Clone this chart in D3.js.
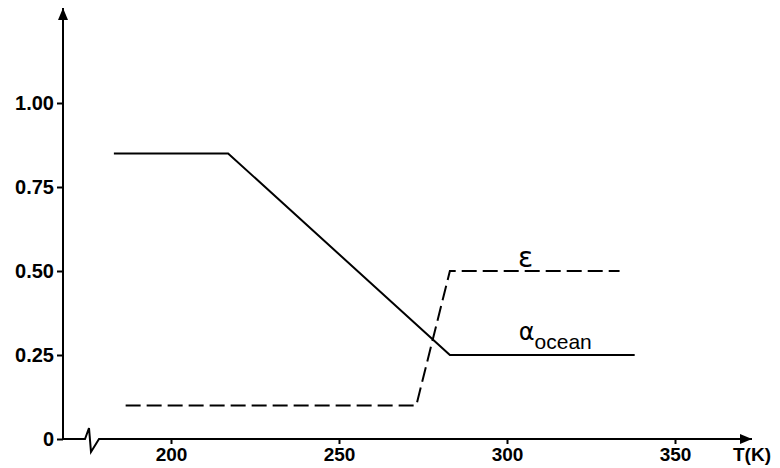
<!DOCTYPE html>
<html>
<head>
<meta charset="utf-8">
<script src="https://cdn.jsdelivr.net/npm/d3@7"></script>
<style>
  body{margin:0;background:#fff;}
  svg{display:block;}
</style>
</head>
<body>
<div class="chart"></div>
<script>
const width=780,
      height=468,
      font='Liberation Sans';

// albedo of the ocean vs temperature
const alphaT=[183,217,283,338];
const alphaV=[0.85,0.85,0.25,0.25];
// emissivity vs temperature
const epsT=[186.5,273,283,333.5];
const epsV=[0.10,0.10,0.50,0.50];

const xTicks=[200,250,300,350];
const yTicks=[0,0.25,0.5,0.75,1.0];
const yLabels=["0","0.25","0.50","0.75","1.00"];

let x=d3.scaleLinear().domain([200,350]).range([171,675]);
let y=d3.scaleLinear().domain([0,1]).range([439,103]);
let x0=63; // where the y axis sits

var svg=d3.select(".chart").append("svg")
          .attr("width",width)
          .attr("height",height)
          .style("font-family",font);

// arrow heads
let defs=svg.append("defs");
defs.append("marker")
    .attr("id","arrow")
    .attr("viewBox","0 0 12 10")
    .attr("refX",12).attr("refY",5)
    .attr("markerWidth",12).attr("markerHeight",10)
    .attr("markerUnits","userSpaceOnUse")
    .attr("orient","auto")
  .append("path")
    .attr("d","M0,0 L12,5 L0,10 Z")
    .attr("fill","#000");

// x axis line with the break
svg.append("path")
   .attr("d","M"+x0+","+y(0)+" H85 L89,428 L91,452 L99,"+y(0)+" H752")
   .attr("fill","none")
   .attr("stroke","#000")
   .attr("stroke-width",2)
   .attr("marker-end","url(#arrow)");

// y axis line
svg.append("line")
   .attr("x1",x0).attr("y1",y(0)+1)
   .attr("x2",x0).attr("y2",8)
   .attr("stroke","#000")
   .attr("stroke-width",2)
   .attr("marker-end","url(#arrow)");

let xAxis=svg.append("g")
   .attr("transform","translate(0,"+y(0)+")")
   .call(d3.axisBottom(x).tickValues(xTicks).tickSize(5).tickSizeOuter(0).tickFormat(d3.format("d")));
xAxis.select(".domain").remove();
xAxis.selectAll("line").attr("stroke","#000").attr("stroke-width",2);
xAxis.selectAll("text")
   .attr("y",22)
   .attr("dy",null)
   .style("font-size","19px")
   .style("font-family",font)
   .style("font-weight","bold")
   .attr("fill","#000");

let yAxis=svg.append("g")
   .attr("transform","translate("+x0+",0)")
   .call(d3.axisLeft(y).tickValues(yTicks).tickSize(6).tickSizeOuter(0).tickFormat((d,i)=>yLabels[i]));
yAxis.select(".domain").remove();
yAxis.selectAll("line").attr("stroke","#000").attr("stroke-width",2);
yAxis.selectAll("text")
   .attr("x",-9)
   .style("font-size","20px")
   .style("font-family",font)
   .style("font-weight","bold")
   .attr("fill","#000");

svg.append("text")
   .attr("x",733).attr("y",461)
   .style("font-size","19px")
   .style("font-weight","bold")
   .text("T(K)");

let line=d3.line().x(d=>x(d[0])).y(d=>y(d[1]));

svg.append("path")
   .datum(d3.zip(alphaT,alphaV))
   .attr("d",line)
   .attr("fill","none")
   .attr("stroke","#000")
   .attr("stroke-width",2);

svg.append("path")
   .datum(d3.zip(epsT,epsV))
   .attr("d",line)
   .attr("fill","none")
   .attr("stroke","#000")
   .attr("stroke-width",2)
   .attr("stroke-dasharray","15,6");

// curve labels
svg.append("text")
   .attr("x",x(305.5)).attr("y",y(0.5)-4)
   .attr("text-anchor","middle")
   .style("font-family","DejaVu Sans")
   .style("font-size","28px")
   .text("ε");

let lab=svg.append("text")
   .attr("x",x(303.5)).attr("y",y(0.25)-15)
   .style("font-family","DejaVu Sans")
   .style("font-size","24px");
lab.append("tspan").text("α");
lab.append("tspan")
   .attr("dy",9)
   .style("font-family",font)
   .style("font-size","21px")
   .text("ocean");
</script>
</body>
</html>
